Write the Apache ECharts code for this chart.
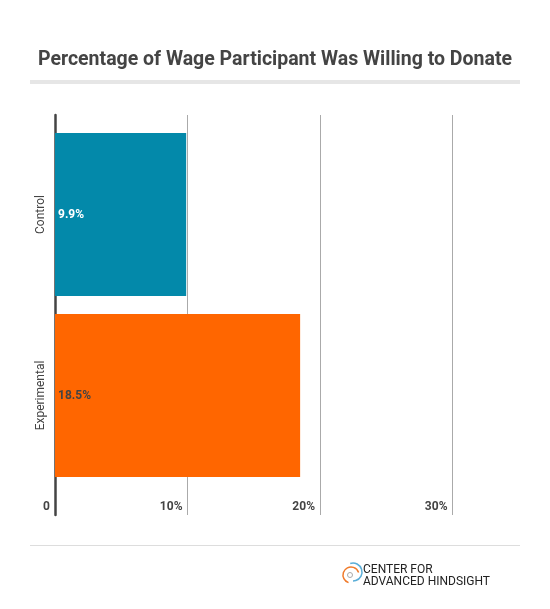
<!DOCTYPE html>
<html>
<head>
<meta charset="utf-8">
<script src="https://cdn.jsdelivr.net/npm/echarts@6/dist/echarts.min.js"></script>
<style>
	html, body { margin: 0; padding: 0; background: #fff; }
	#chart { width: 550px; height: 609px; }
</style>
</head>
<body>
<div id="chart"></div>
<script>
const titleText = 'Percentage of Wage Participant Was Willing to Donate';
const groups = ['Control', 'Experimental'];
const donated = [9.9, 18.5];
const barColors = ['#0389aa', '#ff6600'];
const labelColors = ['#ffffff', '#444444'];
const tickValues = [0, 10, 20, 30];

function tickLabel(v) {
	return v === 0 ? '0' : v + '%';
}

function buildOption() {
	return {
		animation: false,
		backgroundColor: '#fff',
		textStyle: { fontFamily: 'Roboto' },
		title: {
			text: titleText,
			left: 'center',
			top: 45,
			textStyle: { fontFamily: 'Roboto', fontSize: 19.5, fontWeight: 'bold', color: '#444' }
		},
		grid: [
			// axis frame: gridlines and tick labels
			{ left: 55, width: 463.75, top: 115, bottom: 94 },
			// bars
			{ left: 55, width: 463.75, top: 124, bottom: 123 }
		],
		xAxis: [
			{
				gridIndex: 0,
				type: 'value',
				min: 0,
				max: 35,
				interval: 10,
				axisLine: { show: false },
				axisTick: { show: false },
				splitLine: { show: true, showMaxLine: false, lineStyle: { color: '#aaa', width: 1 } },
				axisLabel: {
					inside: true,
					margin: 2,
					align: 'right',
					padding: [0, 5, 0, 0],
					color: '#444',
					fontSize: 12,
					fontWeight: 'bold',
					showMaxLabel: false,
					formatter: v => tickValues.includes(v) ? tickLabel(v) : ''
				}
			},
			{
				gridIndex: 1,
				type: 'value',
				min: 0,
				max: 35,
				show: false
			}
		],
		yAxis: [
			{
				gridIndex: 0,
				type: 'value',
				axisLine: { show: true, lineStyle: { color: '#444', width: 2.5 } },
				axisTick: { show: false },
				axisLabel: { show: false },
				splitLine: { show: false }
			},
			{
				gridIndex: 1,
				type: 'category',
				data: groups,
				inverse: true,
				axisLine: { show: false },
				axisTick: { show: false },
				axisLabel: {
					rotate: 90,
					margin: 8,
					color: '#444',
					fontSize: 12
				}
			}
		],
		series: [
			{
				type: 'bar',
				xAxisIndex: 1,
				yAxisIndex: 1,
				barWidth: 163,
				data: donated.map((v, i) => ({
					value: v,
					itemStyle: { color: barColors[i] },
					label: { color: labelColors[i] }
				})),
				label: {
					show: true,
					position: 'insideLeft',
					distance: 3,
					fontSize: 12,
					fontWeight: 'bold',
					formatter: p => p.value + '%'
				}
			}
		],
		graphic: [
			{ type: 'rect', shape: { x: 30, y: 80, width: 490, height: 4 }, style: { fill: '#e6e6e6' } },
			{ type: 'rect', shape: { x: 30, y: 545, width: 490, height: 1 }, style: { fill: '#dddddd' } },
			{
				type: 'arc',
				shape: { cx: 351, cy: 575, r: 8, startAngle: Math.PI * 0.6, endAngle: Math.PI * 1.9 },
				style: { stroke: '#f07a2a', lineWidth: 1.5, fill: 'none' }
			},
			{
				type: 'arc',
				shape: { cx: 353, cy: 572, r: 9, startAngle: -Math.PI * 0.6, endAngle: Math.PI * 0.5 },
				style: { stroke: '#5aaed8', lineWidth: 1.5, fill: 'none' }
			},
			{ type: 'circle', shape: { cx: 350, cy: 575, r: 2.5 }, style: { stroke: '#aaa', lineWidth: 1, fill: 'none' } },
			{ type: 'text', x: 363, y: 564, style: { text: 'CENTER FOR', fontFamily: 'Roboto', fontSize: 12, fill: '#222' } },
			{ type: 'text', x: 363, y: 576, style: { text: 'ADVANCED HINDSIGHT', fontFamily: 'Roboto', fontSize: 12, fill: '#222' } }
		]
	};
}

const chart = echarts.init(document.getElementById('chart'));
chart.setOption(buildOption());
window.addEventListener('resize', () => {
	chart.resize();
});
</script>
</body>
</html>
